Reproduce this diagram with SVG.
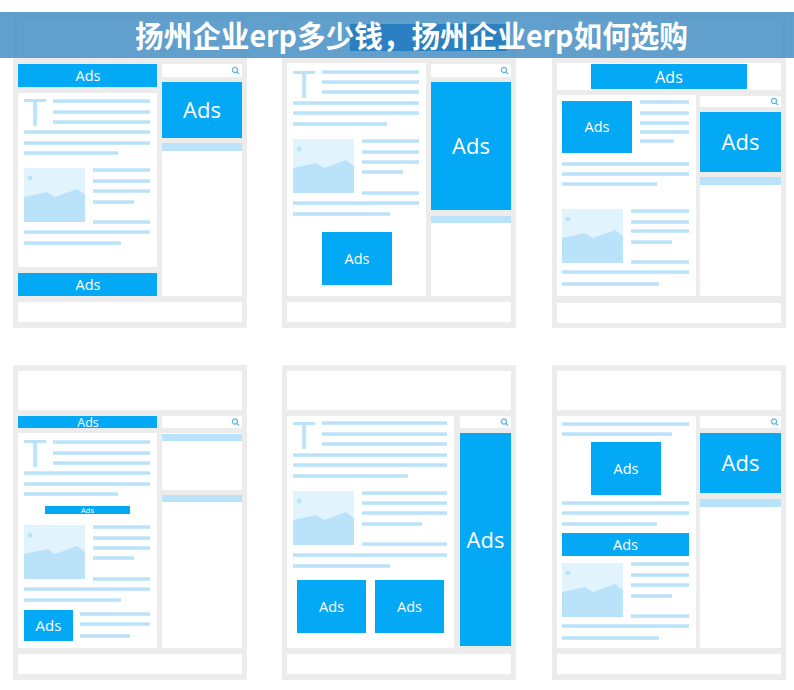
<svg xmlns="http://www.w3.org/2000/svg" xmlns:xlink="http://www.w3.org/1999/xlink" width="794" height="690" viewBox="0 0 794 690">
<style>
.frame{fill:#ececec}
.w{fill:#ffffff}
.ad{fill:#03a9f4}
.ln{fill:#bae3f9}
.at{fill:#ffffff;font-family:"Open Sans","DejaVu Sans",sans-serif;text-anchor:middle}
.tt{fill:#bae3f9;font-family:"Liberation Sans",Arial,sans-serif;font-size:39px}
.srch{fill:none;stroke:#58b4e4;stroke-width:1.2}
.title{fill:#ffffff;font-family:"Noto Sans CJK SC","Noto Sans",sans-serif;font-weight:bold;font-size:30px}
</style>
<defs>
<g id="pic">
<rect x="0" y="0" width="61" height="54" fill="#e1f4fd"/>
<circle cx="6" cy="10" r="2.5" fill="#bae3f9"/>
<polygon points="0,29 23,24 31,29 53,21 61,27 61,54 0,54" fill="#bae3f9"/>
</g>
<g id="search">
<circle cx="0" cy="0" r="2.6" class="srch"/>
<line x1="1.9" y1="1.9" x2="4" y2="4" class="srch"/>
</g>
</defs>
<rect x="0" y="0" width="794" height="690" fill="#ffffff"/>

<!-- Panel 1 -->
<g id="panel1" transform="translate(13,13)">
<rect class="frame" x="0" y="0" width="234" height="315"/>
<rect class="w" x="5" y="6" width="224" height="39"/>
<rect class="ad" x="5" y="51" width="139" height="23"/>
<text class="at" x="75" y="67.5" font-size="14.5">Ads</text>
<rect class="w" x="5" y="80" width="139" height="174"/>
<text class="tt" x="10" y="113">T</text>
<rect class="ln" x="40" y="86.3" width="97" height="3.5"/>
<rect class="ln" x="40" y="97.3" width="97" height="3.5"/>
<rect class="ln" x="40" y="107.3" width="97" height="3.5"/>
<rect class="ln" x="11" y="117.3" width="126" height="3.5"/>
<rect class="ln" x="11" y="128.3" width="126" height="3.5"/>
<rect class="ln" x="11" y="138.3" width="94" height="3.5"/>
<use xlink:href="#pic" x="11" y="155"/>
<rect class="ln" x="80" y="155.3" width="57" height="3.5"/>
<rect class="ln" x="80" y="166.3" width="57" height="3.5"/>
<rect class="ln" x="80" y="176.3" width="57" height="3.5"/>
<rect class="ln" x="80" y="187.3" width="41" height="3.5"/>
<rect class="ln" x="80" y="207.3" width="57" height="3.5"/>
<rect class="ln" x="11" y="217.3" width="126" height="3.5"/>
<rect class="ln" x="11" y="228.3" width="97" height="3.5"/>
<rect class="ad" x="5" y="260" width="139" height="23"/>
<text class="at" x="75" y="276.5" font-size="14.5">Ads</text>
<rect class="w" x="149" y="51" width="80" height="13"/>
<use xlink:href="#search" x="222" y="57"/>
<rect class="ad" x="149" y="69" width="80" height="56"/>
<text class="at" x="189" y="105" font-size="22">Ads</text>
<rect class="w" x="149" y="130" width="80" height="153"/>
<rect class="ln" x="149" y="130" width="80" height="8"/>
<rect class="w" x="5" y="289" width="224" height="20"/>
</g>

<!-- Panel 2 -->
<g id="panel2" transform="translate(282,13)">
<rect class="frame" x="0" y="0" width="234" height="315"/>
<rect class="w" x="5" y="6" width="224" height="39"/>
<rect class="w" x="5" y="50" width="139" height="233"/>
<text class="tt" x="10" y="85">T</text>
<rect class="ln" x="40" y="57.3" width="97" height="3.5"/>
<rect class="ln" x="40" y="67.3" width="97" height="3.5"/>
<rect class="ln" x="40" y="77.3" width="97" height="3.5"/>
<rect class="ln" x="11" y="88.3" width="126" height="3.5"/>
<rect class="ln" x="11" y="98.3" width="126" height="3.5"/>
<rect class="ln" x="11" y="109.3" width="94" height="3.5"/>
<use xlink:href="#pic" x="11" y="126"/>
<rect class="ln" x="80" y="126.3" width="57" height="3.5"/>
<rect class="ln" x="80" y="137.3" width="57" height="3.5"/>
<rect class="ln" x="80" y="147.3" width="57" height="3.5"/>
<rect class="ln" x="80" y="157.3" width="41" height="3.5"/>
<rect class="ln" x="80" y="178.3" width="57" height="3.5"/>
<rect class="ln" x="11" y="188.3" width="126" height="3.5"/>
<rect class="ln" x="11" y="199.3" width="97" height="3.5"/>
<rect class="ad" x="40" y="219" width="70" height="53"/>
<text class="at" x="75" y="250.5" font-size="14.5">Ads</text>
<rect class="w" x="149" y="51" width="80" height="13"/>
<use xlink:href="#search" x="222" y="57"/>
<rect class="ad" x="149" y="69" width="80" height="128"/>
<text class="at" x="189" y="141" font-size="22">Ads</text>
<rect class="w" x="149" y="203" width="80" height="80"/>
<rect class="ln" x="149" y="203" width="80" height="7"/>
<rect class="w" x="5" y="289" width="224" height="20"/>
</g>

<!-- Panel 3 -->
<g id="panel3" transform="translate(552,13)">
<rect class="frame" x="0" y="0" width="234" height="315"/>
<rect class="w" x="5" y="6" width="224" height="39"/>
<rect class="w" x="5" y="50" width="224" height="27"/>
<rect class="ad" x="39" y="51" width="156" height="25"/>
<text class="at" x="117" y="69.5" font-size="16">Ads</text>
<rect class="w" x="5" y="82" width="139" height="201"/>
<rect class="ad" x="10" y="88" width="70" height="52"/>
<text class="at" x="45" y="119" font-size="14.5">Ads</text>
<rect class="ln" x="88" y="87.3" width="49" height="3.5"/>
<rect class="ln" x="88" y="98.3" width="49" height="3.5"/>
<rect class="ln" x="88" y="108.3" width="49" height="3.5"/>
<rect class="ln" x="88" y="117.3" width="49" height="3.5"/>
<rect class="ln" x="88" y="126.3" width="34" height="3.5"/>
<rect class="ln" x="10" y="149.3" width="127" height="3.5"/>
<rect class="ln" x="10" y="159.3" width="127" height="3.5"/>
<rect class="ln" x="10" y="169.3" width="95" height="3.5"/>
<use xlink:href="#pic" x="10" y="196"/>
<rect class="ln" x="79" y="196.3" width="58" height="3.5"/>
<rect class="ln" x="79" y="207.3" width="58" height="3.5"/>
<rect class="ln" x="79" y="216.3" width="58" height="3.5"/>
<rect class="ln" x="79" y="227.3" width="41" height="3.5"/>
<rect class="ln" x="79" y="247.3" width="58" height="3.5"/>
<rect class="ln" x="10" y="257.3" width="127" height="3.5"/>
<rect class="ln" x="10" y="269.3" width="97" height="3.5"/>
<rect class="w" x="148" y="83" width="81" height="11"/>
<use xlink:href="#search" x="222" y="88"/>
<rect class="ad" x="148" y="99" width="81" height="60"/>
<text class="at" x="188.5" y="137" font-size="22">Ads</text>
<rect class="w" x="148" y="164" width="81" height="119"/>
<rect class="ln" x="148" y="164" width="81" height="8"/>
<rect class="w" x="5" y="290" width="224" height="20"/>
</g>

<!-- Panel 4 -->
<g id="panel4" transform="translate(13,365)">
<rect class="frame" x="0" y="0" width="234" height="315"/>
<rect class="w" x="5" y="6" width="224" height="39"/>
<rect class="ad" x="5" y="51" width="139" height="12"/>
<text class="at" x="75" y="61.5" font-size="12.5">Ads</text>
<rect class="w" x="149" y="51" width="80" height="12"/>
<use xlink:href="#search" x="222" y="56.5"/>
<rect class="w" x="5" y="68" width="139" height="215"/>
<text class="tt" x="10" y="102">T</text>
<rect class="ln" x="40" y="75.3" width="97" height="3.5"/>
<rect class="ln" x="40" y="86.3" width="97" height="3.5"/>
<rect class="ln" x="40" y="96.3" width="97" height="3.5"/>
<rect class="ln" x="11" y="106.3" width="126" height="3.5"/>
<rect class="ln" x="11" y="117.3" width="126" height="3.5"/>
<rect class="ln" x="11" y="127.3" width="94" height="3.5"/>
<rect class="ad" x="32" y="141" width="85" height="8"/>
<text class="at" x="74.5" y="147.7" font-size="7.5">Ads</text>
<use xlink:href="#pic" x="11" y="160"/>
<rect class="ln" x="80" y="160.3" width="57" height="3.5"/>
<rect class="ln" x="80" y="171.3" width="57" height="3.5"/>
<rect class="ln" x="80" y="181.3" width="57" height="3.5"/>
<rect class="ln" x="80" y="191.3" width="41" height="3.5"/>
<rect class="ln" x="80" y="212.3" width="57" height="3.5"/>
<rect class="ln" x="11" y="222.3" width="126" height="3.5"/>
<rect class="ln" x="11" y="233.3" width="97" height="3.5"/>
<rect class="ad" x="11" y="245" width="49" height="31"/>
<text class="at" x="35.5" y="266" font-size="15">Ads</text>
<rect class="ln" x="67" y="247.3" width="70" height="3.5"/>
<rect class="ln" x="67" y="257.3" width="70" height="3.5"/>
<rect class="ln" x="67" y="269.3" width="50" height="3.5"/>
<rect class="w" x="149" y="68" width="80" height="57"/>
<rect class="ln" x="149" y="69" width="80" height="7"/>
<rect class="w" x="149" y="130" width="80" height="153"/>
<rect class="ln" x="149" y="130" width="80" height="7"/>
<rect class="w" x="5" y="289" width="224" height="20"/>
</g>

<!-- Panel 5 -->
<g id="panel5" transform="translate(282,365)">
<rect class="frame" x="0" y="0" width="234" height="315"/>
<rect class="w" x="5" y="6" width="224" height="39"/>
<rect class="w" x="5" y="51" width="167" height="232"/>
<text class="tt" x="10" y="84">T</text>
<rect class="ln" x="40" y="56.3" width="125" height="3.5"/>
<rect class="ln" x="40" y="67.3" width="125" height="3.5"/>
<rect class="ln" x="40" y="77.3" width="125" height="3.5"/>
<rect class="ln" x="11" y="88.3" width="154" height="3.5"/>
<rect class="ln" x="11" y="98.3" width="154" height="3.5"/>
<rect class="ln" x="11" y="109.3" width="115" height="3.5"/>
<use xlink:href="#pic" x="11" y="126"/>
<rect class="ln" x="80" y="126.3" width="85" height="3.5"/>
<rect class="ln" x="80" y="136.3" width="85" height="3.5"/>
<rect class="ln" x="80" y="146.3" width="85" height="3.5"/>
<rect class="ln" x="80" y="157.3" width="60" height="3.5"/>
<rect class="ln" x="80" y="177.3" width="85" height="3.5"/>
<rect class="ln" x="11" y="188.3" width="154" height="3.5"/>
<rect class="ln" x="11" y="199.3" width="97" height="3.5"/>
<rect class="ad" x="15" y="215" width="69" height="53"/>
<text class="at" x="49.5" y="246.5" font-size="14.5">Ads</text>
<rect class="ad" x="93" y="215" width="69" height="53"/>
<text class="at" x="127.5" y="246.5" font-size="14.5">Ads</text>
<rect class="w" x="178" y="51" width="51" height="12"/>
<use xlink:href="#search" x="222" y="56.5"/>
<rect class="ad" x="178" y="68" width="51" height="213"/>
<text class="at" x="203.5" y="182.5" font-size="22">Ads</text>
<rect class="w" x="5" y="289" width="224" height="20"/>
</g>

<!-- Panel 6 -->
<g id="panel6" transform="translate(552,365)">
<rect class="frame" x="0" y="0" width="234" height="315"/>
<rect class="w" x="5" y="6" width="224" height="39"/>
<rect class="w" x="5" y="51" width="139" height="232"/>
<rect class="ln" x="10" y="57.3" width="127" height="3.5"/>
<rect class="ln" x="10" y="67.3" width="110" height="3.5"/>
<rect class="ad" x="39" y="77" width="70" height="53"/>
<text class="at" x="74" y="108.5" font-size="14.5">Ads</text>
<rect class="ln" x="10" y="136.3" width="127" height="3.5"/>
<rect class="ln" x="10" y="146.3" width="127" height="3.5"/>
<rect class="ln" x="10" y="157.3" width="95" height="3.5"/>
<rect class="ad" x="10" y="168" width="127" height="23"/>
<text class="at" x="73.5" y="185" font-size="14.5">Ads</text>
<use xlink:href="#pic" x="10" y="198"/>
<rect class="ln" x="79" y="197.3" width="58" height="3.5"/>
<rect class="ln" x="79" y="208.3" width="58" height="3.5"/>
<rect class="ln" x="79" y="218.3" width="58" height="3.5"/>
<rect class="ln" x="79" y="229.3" width="41" height="3.5"/>
<rect class="ln" x="79" y="249.3" width="58" height="3.5"/>
<rect class="ln" x="10" y="259.3" width="127" height="3.5"/>
<rect class="ln" x="10" y="271.3" width="97" height="3.5"/>
<rect class="w" x="148" y="51" width="81" height="12"/>
<use xlink:href="#search" x="222" y="56.5"/>
<rect class="ad" x="148" y="68" width="81" height="60"/>
<text class="at" x="188.5" y="106" font-size="22">Ads</text>
<rect class="w" x="148" y="134" width="81" height="149"/>
<rect class="ln" x="148" y="134" width="81" height="8"/>
<rect class="w" x="5" y="289" width="224" height="20"/>
</g>

<!-- Title banner -->
<g id="title">
<rect x="0" y="12" width="794" height="46" fill="#4b93c6" fill-opacity="0.88"/>
<rect x="350" y="24" width="157" height="27" fill="#2a80c0"/>
<text class="title" x="135" y="47" textLength="553" lengthAdjust="spacingAndGlyphs">扬州企业erp多少钱，扬州企业erp如何选购</text>
</g>
</svg>
